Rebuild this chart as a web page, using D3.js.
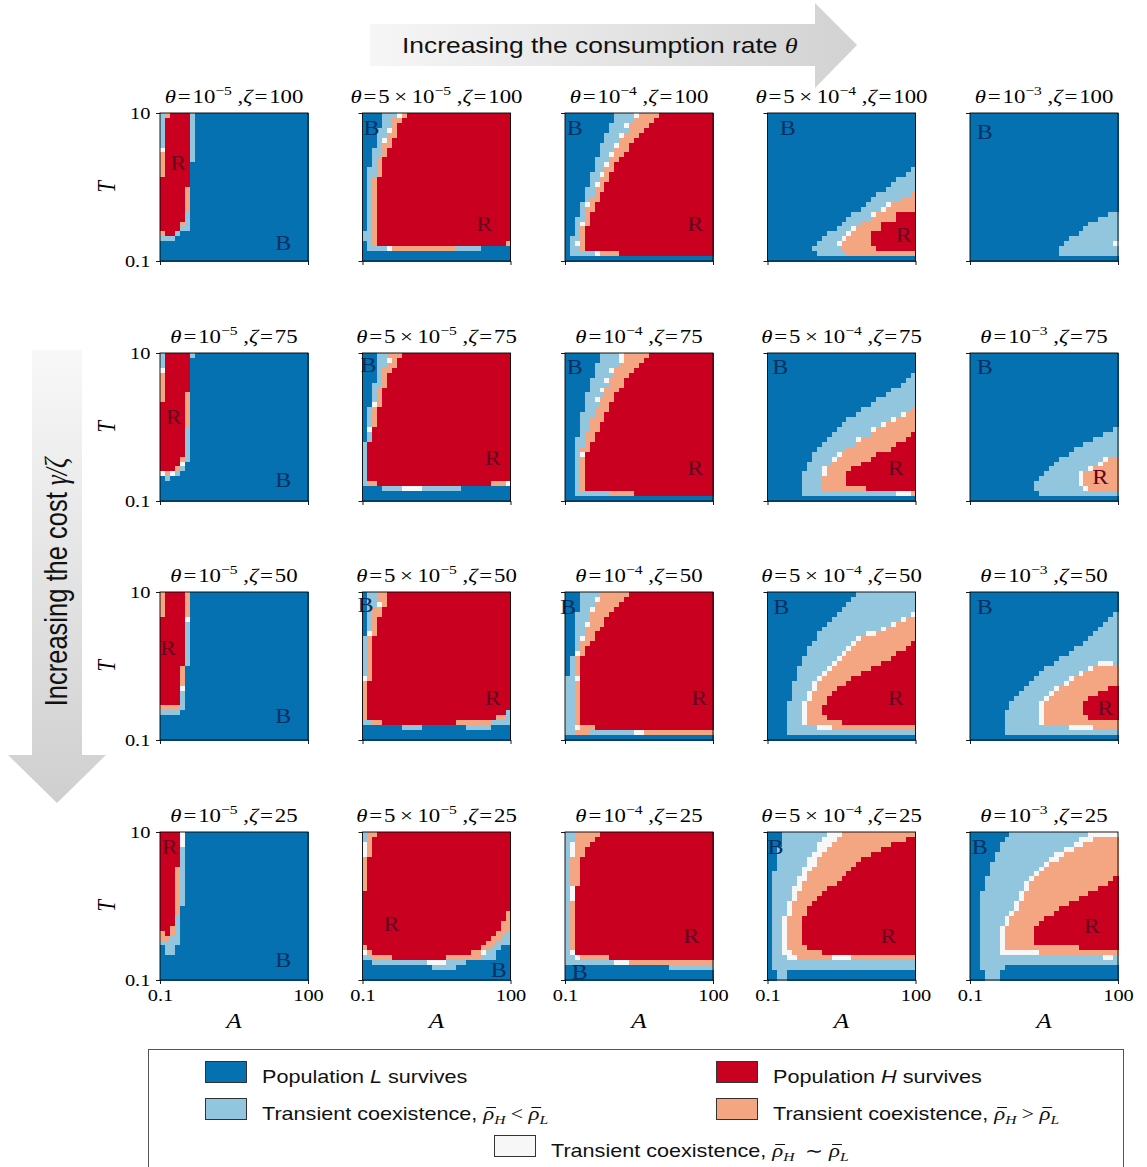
<!DOCTYPE html>
<html>
<head>
<meta charset="utf-8">
<script src="https://cdn.jsdelivr.net/npm/d3@7"></script>
<style>
  body { margin: 0; background: #fff; }
  svg text { font-family: "Liberation Serif", "Times New Roman", serif; }
  svg text.sans { font-family: "Liberation Sans", Arial, sans-serif; }
</style>
</head>
<body>
<div id="chart"></div>
<script>
// theta = mant x 10^exp, one per column ; zeta per row
var thetaMant = ["", "5", "", "5", ""];
var thetaExp = ["\u22125", "\u22125", "\u22124", "\u22124", "\u22123"];
var zetas = [100, 75, 50, 25];
var xTicks = [0.1, 100];
var yTicks = [0.1, 10];
var legendItems = [
  {k: "B", label: "Population ", it: "L", rest: " survives"},
  {k: "R", label: "Population ", it: "H", rest: " survives"},
  {k: "L", label: "Transient coexistence, ", rel: " < "},
  {k: "O", label: "Transient coexistence, ", rel: " > "},
  {k: "W", label: "Transient coexistence, ", rel: "\u2002\u223c "}
];

// outcome grids, 30 x 30, rows from T=10 (top) down to T=0.1
// run-length per row: letter+count, a bare letter fills the row, "n*" repeats a row
// B = L survives, L = coexist rhoH<rhoL, W = rhoH~rhoL, O = rhoH>rhoL, R = H survives
var cells_z100 = [
  ["L1O1R4L1B", "6*L1R5L1B", "W1R5L1B", "2*O1R5L1B", "3*O1R5B", "2*R6B", "5*R5O1B",
   "2*R5L1B", "R4O1L1B", "R4L2B", "O1R2L1B", "L3B", "4*B"],
  ["B4L3W1O1R", "B4L2O2R", "B4L2O1R", "B3L2W1O1R", "B3L2O2R", "B3L1W1O1R", "B3L1O2R",
   "2*B2L2O1R", "2*B2L1O1R", "2*B1L2O1R", "11*B1L1O1R", "2*L2O1R", "B1L1O1R26O",
   "B1L4W1O13L5B", "2*B"],
  ["B10L4W1O4R", "B10L4O4R", "B9L3W1O4R", "B9L4O3R", "B8L3W1O3R", "B8L3O3R", "B7L3W1O2R",
   "B7L3O3R", "B7L2W1O2R", "B6L3O2R", "B6L2W1O1R", "B6L2O2R", "B5L2W1O1R", "B5L2O2R",
   "B5L1W1O1R", "B4L2O2R", "B4L2O1R", "B4L1O2R", "B3L1W1O1R", "B3L1O2R", "B3L1O1R",
   "B2L2O1R", "B2L1W1O1R", "2*B2L1O1R", "B1L2O1R", "B1L1W1O1R", "B1L2O1R", "B1L5W1O4R", "B"],
  ["11*B", "B29L", "B28L", "B26L", "B25L", "B24L", "B22L7O", "B21L6O", "B20L4W1O",
   "B19L4W1O", "B17L4W1O4R", "B16L5O5R", "B15L4O4R", "B14L3W1O5R", "B12L4W1O4R",
   "B11L4W1O5R", "B10L4W1O6R", "B9L6O7R", "B10L6O", "B"],
  ["20*B", "B28L", "B26L", "B24L", "B23L", "B22L", "B20L", "B19L10W", "B18L", "B18L", "B"]
];
var cells_z75 = [
  ["L1R5L1B", "2*L1R5B", "W1R5B", "4*O1R5B", "2*O1R4O1B", "5*R5O1B", "6*R5L1B",
   "R4O1L1B", "R4W1B", "R3O1L1B", "W1O1W1L1B", "B1L1B", "4*B"],
  ["B3L2O3R", "B3L2W1O1R", "B3L2O2R", "B3L1O2R", "2*B3L1O1R", "B2L2O1R", "3*B2L1O1R",
   "B2W1O1R", "4*B1L1O1R", "B1W1R", "2*B1L1R", "8*L1R", "L1O2R23O3W", "B4L4W4L8B", "2*B"],
  ["B7L4W1O5R", "B7L4W1O4R", "B6L5O4R", "B6L3W1O4R", "B6L4O3R", "B5L3W1O3R", "B5L4O3R",
   "B5L2W1O3R", "B4L4O2R", "B4L2W1O3R", "B4L3O2R", "B4L2O3R", "B3L3O2R", "B3L2O3R",
   "B3L2O2R", "B3L2O2R", "B3L1O2R", "B2L2O2R", "B2L2O1R", "B2L1O2R", "B2L1W1R",
   "7*B2L1O1R", "B2L7O5R", "B"],
  ["4*B", "B29L", "B28L", "B27L", "B25L", "B24L", "B22L", "B21L", "B19L10O", "B18L9W1O",
   "B16L9W1O", "B15L8W1O", "B14L7W1O", "B13L8O8R", "B12L6W1O9R", "B11L7O8R", "B10L6O9R",
   "B9L5W1O7R", "B9L4W1O7R", "B8L5O6R", "B8L3W1O5R", "B7L4W1O4R", "B7L4O5R", "B7L4O5R",
   "B7L4O9R", "B7L19W3O", "B"],
  ["15*B", "B29L", "B27L", "B25L", "B23L", "B21L", "B20L", "B18L9W1O", "B17L9W1O",
   "B16L8W1O", "B15L7W1O", "B14L8W1O", "B13L9W1O", "B13L10W1O", "B14L", "B"]
];
var cells_z50 = [
  ["5*O1R4O1B", "R5W1B", "9*R5L1B", "4*R4O1B", "R4W1B", "3*R4L1B", "O4L1B", "L4B", "5*B"],
  ["2*B1L2O2R", "B1L2W1O1R", "2*B1L1O2R", "3*B1L1O1R", "B1W1O1R", "8*L1O1R", "W1O1R",
   "6*O1R", "O1R28L", "O1R26O2L", "L2O2R15O7L", "B8L4B9L5B", "2*B"],
  ["B3L4O6R", "B3L3W1O5R", "B3L3O5R", "B3L2W1O4R", "B2L3O4R", "B2L3O3R", "B2L2W1O3R",
   "B2L2O3R", "B2L2O2R", "B2L1W1O2R", "B2L1O2R", "B2L1O1R", "B2W1O1R", "4*B1L1O1R",
   "L2W1R", "9*L2O1R", "L2W1O3R", "L2O3L9W2O", "B"],
  ["B18L", "B17L", "B16L", "B15L", "B14L15W", "B13L14W1O", "B12L13W1O", "B11L12W1O",
   "B10L10W2O", "B10L8W1O", "B9L8W1O11R", "B8L8W1O11R", "B8L7W1O10R", "B7L7W1O10R",
   "B7L6W1O9R", "B6L6W1O8R", "B6L5W1O7R", "B6L4W1O6R", "B5L4W1O6R", "B5L4W1O4R",
   "B5L3W1O4R", "B5L3W1O3R", "B4L3W1O4R", "2*B4L3W1O3R", "B4L3W1O4R", "B4L3W1O7R",
   "B4L6W3O", "B4L", "B"],
  ["4*B", "B29L", "B28L", "B27L", "B26L", "B25L", "B24L", "B23L", "B21L", "B20L", "B18L",
   "B17L9W3L", "B15L9W1O", "B14L8W1O", "B13L7W1O", "B12L7W1O", "B11L6W1O10R",
   "B10L6W1O9R", "B9L6W1O8R", "2*B8L6W1O8R", "B7L7W1O8R", "B7L7W1O9R", "B7L7W1O",
   "B7L13W5O", "B7L", "B"]
];
var cells_z25 = [
  ["3*R4W1B", "4*R4L1B", "8*R3O1L1B", "2*R3O1B", "2*R3L1B", "R2O1L1B", "O1R1O1L1B",
   "O2L2B", "L4B", "2*B1L2B", "5*B"],
  ["L1O2R", "L1O1R", "3*W1O1R", "7*O1R", "4*R", "2*R29O", "2*R28O", "R27O2L", "R26O2L",
   "R25O2L", "O1R23O2L2B", "W1O1R20O2W1L2B", "L2O4R11O7L3B", "B2L11W4L4B", "B14L5B", "2*B"],
  ["L2O5R", "L2O4R", "L1W1O3R", "2*L1W1O2R", "6*L1O2R", "3*L1W1R", "10*L1O1R", "L1W1R",
   "L2W1O6R", "L10W3O", "B21L", "2*B"],
  ["B3L9W3O", "B3L8W3O14R", "B3L7W3O12R", "B2L8W2O11R", "B2L7W2O10R", "B2L6W2O9R",
   "B2L6W2O8R", "B2L5W2O8R", "B1L6W1O8R", "B1L5W2O7R", "B1L5W1O7R", "B1L4W2O5R",
   "B1L4W1O5R", "B1L4W1O4R", "B1L3W1O4R", "2*B1L3W1O3R", "6*B1L2W1O3R", "B1L2W1O4R",
   "B1L2W2O6R", "B1L3W2O7W4O", "2*B1L", "2*B2L2B"],
  ["B8L16W", "B7L15W3O", "B6L15W2O", "B6L13W2O", "B5L12W2O", "B5L11W2O", "B4L11W1O",
   "B4L10W1O", "B4L9W1O", "B3L9W1O16R", "B3L8W1O16R", "B3L8W1O14R", "B2L8W1O13R",
   "B2L8W1O11R", "B2L7W1O10R", "B2L7W1O8R", "B2L6W1O8R", "B2L5W1O7R", "B2L5W1O6R",
   "4*B2L4W1O6R", "B2L4W1O15R", "B2L4W8O", "B2L25W2L", "B2L", "B2L5B", "2*B3L3B"]
];

// region letters, [letter, column, row] in grid units
var marks_z100 = [[["R", 3.7, 10.1], ["B", 25, 26.4]], [["B", 1.8, 3], ["R", 24.7, 22.5]],
  [["B", 2, 3], ["R", 26.4, 22.5]], [["B", 4.1, 3], ["R", 27.6, 24.7]], [["B", 3, 3.9]]];
var marks_z75 = [[["R", 2.8, 13], ["B", 25, 25.8]], [["B", 1.2, 2.4], ["R", 26.4, 21.3]],
  [["B", 2, 2.8], ["R", 26.4, 23.3]], [["B", 2.6, 2.8], ["R", 26, 23.3]],
  [["B", 3, 2.8], ["R", 26.4, 25.2]]];
var marks_z50 = [[["R", 1.6, 11.4], ["B", 25, 25.2]], [["B", 0.6, 2.6], ["R", 26.4, 21.5]],
  [["B", 0.6, 3], ["R", 27.2, 21.5]], [["B", 2.8, 3], ["R", 26, 21.5]],
  [["B", 3, 3], ["R", 27.4, 23.5]]];
var marks_z25 = [[["R", 2, 3], ["B", 25, 26]], [["R", 5.9, 18.7], ["B", 27.6, 28]],
  [["R", 25.6, 21.1], ["B", 3, 28.4]], [["B", 1.6, 3], ["R", 24.5, 21.1]],
  [["B", 2, 3], ["R", 24.7, 19]]];

var palette = {B: "#0571b0", L: "#92c5de", W: "#f7f7f7", O: "#f4a582", R: "#ca0020"};
var inkColor = {B: "#053061", R: "#67001f"};

var width = 1147, height = 1167;
var size = 148, nCell = 30;
var colLeft = [160, 362.5, 565, 767.5, 970];
var rowTop = [113, 353, 592, 832];
var serif = "'Liberation Serif','Times New Roman',serif";
var hair = "\u200a";

// the source figure is stretched sideways, glyphs too
function stretch(x, y, rot) {
  return "translate(" + x + "," + y + ") scale(1.2,1)" + (rot ? " rotate(" + rot + ")" : "");
}

function expand(rows) {
  var out = [];
  rows.forEach(function(s) {
    var n = 1, m = s.match(/^(\d+)\*/);
    if (m) { n = +m[1]; s = s.slice(m[0].length); }
    var line = [], re = /([BLOWR])(\d*)/g, t;
    while ((t = re.exec(s))) {
      var k = t[2] === "" ? nCell - line.length : +t[2];
      for (var i = 0; i < k && line.length < nCell; i++) line.push(t[1]);
    }
    while (line.length < nCell) line.push(line[line.length - 1]);
    for (var j = 0; j < n; j++) out.push(line);
  });
  return out;
}

var svg = d3.select("#chart").append("svg")
    .attr("width", width)
    .attr("height", height);

var defs = svg.append("defs");
var gh = defs.append("linearGradient").attr("id", "gradH")
    .attr("gradientUnits", "userSpaceOnUse")
    .attr("x1", 370).attr("x2", 857).attr("y1", 0).attr("y2", 0);
gh.append("stop").attr("offset", "0%").attr("stop-color", "#f6f6f6");
gh.append("stop").attr("offset", "100%").attr("stop-color", "#d2d2d2");
var gv = defs.append("linearGradient").attr("id", "gradV")
    .attr("gradientUnits", "userSpaceOnUse")
    .attr("x1", 0).attr("x2", 0).attr("y1", 350).attr("y2", 803);
gv.append("stop").attr("offset", "0%").attr("stop-color", "#f8f8f8");
gv.append("stop").attr("offset", "100%").attr("stop-color", "#cfcfcf");

// arrows
svg.append("path")
    .attr("d", "M370,24H815V3L857,45L815,88V66H370Z")
    .attr("fill", "url(#gradH)");
var tH = svg.append("text").attr("class", "sans")
    .attr("transform", stretch(402, 53))
    .attr("font-size", 22).attr("fill", "#111");
tH.append("tspan").text("Increasing the consumption rate ");
tH.append("tspan").attr("font-family", serif).attr("font-style", "italic").text("\u03b8");

svg.append("path")
    .attr("d", "M32,350H82V755H106L57,803L8,755H32Z")
    .attr("fill", "url(#gradV)");
var tV = svg.append("text").attr("class", "sans")
    .attr("transform", stretch(67, 582, -90))
    .attr("text-anchor", "middle")
    .attr("font-size", 25.5).attr("fill", "#111");
tV.append("tspan").text("Increasing the cost ");
tV.append("tspan").attr("font-family", serif).attr("font-style", "italic").text("\u03b3/\u03b6");

var cellX = d3.scaleLinear().domain([0, nCell]).range([0, size]);
var cellY = d3.scaleLinear().domain([0, nCell]).range([0, size]);
var xLog = d3.scaleLog().domain([0.1, 100]).range([0, size]);
var yLog = d3.scaleLog().domain([0.1, 10]).range([size, 0]);

var allCells = [cells_z100, cells_z75, cells_z50, cells_z25];
var allMarks = [marks_z100, marks_z75, marks_z50, marks_z25];

allCells.forEach(function(rowPanels, ri) {
  rowPanels.forEach(function(rows, ci) {
    var grid = expand(rows);
    var flat = [];
    grid.forEach(function(line, r) {
      line.forEach(function(k, c) { flat.push({r: r, c: c, k: k}); });
    });

    var g = svg.append("g")
        .attr("class", "panel")
        .attr("transform", "translate(" + colLeft[ci] + "," + rowTop[ri] + ")");

    g.append("g")
        .attr("shape-rendering", "crispEdges")
      .selectAll("rect")
        .data(flat)
      .enter().append("rect")
        .attr("x", function(d) { return cellX(d.c); })
        .attr("y", function(d) { return cellY(d.r); })
        .attr("width", cellX(1) + 0.6)
        .attr("height", cellY(1) + 0.6)
        .attr("fill", function(d) { return palette[d.k]; });

    g.selectAll(".mark")
        .data(allMarks[ri][ci])
      .enter().append("text")
        .attr("class", "mark")
        .attr("transform", function(d) { return stretch(cellX(d[1]), cellY(d[2])); })
        .attr("text-anchor", "middle")
        .attr("dy", "0.35em")
        .attr("font-size", 20)
        .attr("fill", function(d) { return inkColor[d[0]]; })
        .text(function(d) { return d[0]; });

    g.append("rect")
        .attr("width", size).attr("height", size)
        .attr("fill", "none").attr("stroke", "#000").attr("stroke-width", 0.9);

    var ax = g.append("g").attr("transform", "translate(0," + size + ")")
        .call(d3.axisBottom(xLog).tickValues(xTicks).tickSize(4).tickPadding(5)
          .tickFormat(function(d) { return ri === 3 ? String(d) : ""; }));
    var ay = g.append("g")
        .call(d3.axisLeft(yLog).tickValues(yTicks).tickSize(4).tickPadding(4)
          .tickFormat(function(d) { return ci === 0 ? String(d) : ""; }));
    [ax, ay].forEach(function(a) {
      a.select(".domain").remove();
      a.selectAll("line").attr("stroke", "#000").attr("stroke-width", 0.9);
      a.selectAll("text")
          .attr("font-family", serif).attr("font-size", 17).attr("fill", "#000")
          .attr("transform", "scale(1.2,1)");
    });

    // title
    var t = g.append("text")
        .attr("transform", stretch(size / 2, -10))
        .attr("text-anchor", "middle")
        .attr("font-size", 19).attr("fill", "#000");
    t.append("tspan").attr("font-style", "italic").text("\u03b8");
    t.append("tspan").text(hair + "=" + hair +
        (thetaMant[ci] ? thetaMant[ci] + "\u2009\u00d7\u2009" : "") + "10");
    t.append("tspan").attr("font-size", 13).attr("dy", -8).text(thetaExp[ci]);
    t.append("tspan").attr("dy", 8).text(" ,");
    t.append("tspan").attr("font-style", "italic").text("\u03b6");
    t.append("tspan").text(hair + "=" + hair + zetas[ri]);

    if (ri === 3) {
      g.append("text")
          .attr("transform", stretch(size / 2, size + 48))
          .attr("text-anchor", "middle")
          .attr("font-size", 21).attr("font-style", "italic")
          .text("A");
    }
    if (ci === 0) {
      g.append("text")
          .attr("transform", stretch(-45, size / 2, -90))
          .attr("text-anchor", "middle")
          .attr("font-size", 21).attr("font-style", "italic")
          .text("T");
    }
  });
});

// legend
var leg = svg.append("g").attr("class", "legend");
leg.append("rect")
    .attr("x", 148.5).attr("y", 1049.5)
    .attr("width", 975).attr("height", 140)
    .attr("fill", "#fff").attr("stroke", "#555").attr("stroke-width", 1);

var spots = [[205, 1061], [716, 1061], [205, 1098], [716, 1098], [494, 1135]];
legendItems.forEach(function(d, i) {
  var p = spots[i];
  leg.append("rect")
      .attr("x", p[0] + 0.5).attr("y", p[1] + 0.5)
      .attr("width", 41).attr("height", 21)
      .attr("fill", palette[d.k]).attr("stroke", "#333").attr("stroke-width", 1);
  var holder = leg.append("g").attr("transform", stretch(p[0] + 57, p[1] + 22));
  var tx = holder.append("text").attr("class", "sans")
      .attr("font-size", 18).attr("fill", "#111");
  tx.append("tspan").text(d.label);
  if (d.it) {
    tx.append("tspan").attr("font-style", "italic").text(d.it);
    tx.append("tspan").text(d.rest);
  } else {
    [["H", d.rel], ["L", ""]].forEach(function(s) {
      tx.append("tspan").attr("font-family", serif).attr("font-style", "italic")
          .attr("font-size", 19).text("\u03c1");
      tx.append("tspan").attr("font-family", serif).attr("font-style", "italic")
          .attr("font-size", 13).attr("dy", 4).text(s[0]);
      tx.append("tspan").attr("font-family", serif).attr("dy", -4).text(s[1]);
    });
    // bars over each rho
    var node = tx.node(), str = node.textContent;
    for (var ix = 0; ix < str.length; ix++) {
      if (str[ix] !== "\u03c1") continue;
      var ext = node.getExtentOfChar(ix);
      holder.append("line")
          .attr("x1", ext.x + 2.5).attr("x2", ext.x + ext.width + 1.5)
          .attr("y1", -12.5).attr("y2", -12.5)
          .attr("stroke", "#111").attr("stroke-width", 1);
    }
  }
});
</script>
</body>
</html>
